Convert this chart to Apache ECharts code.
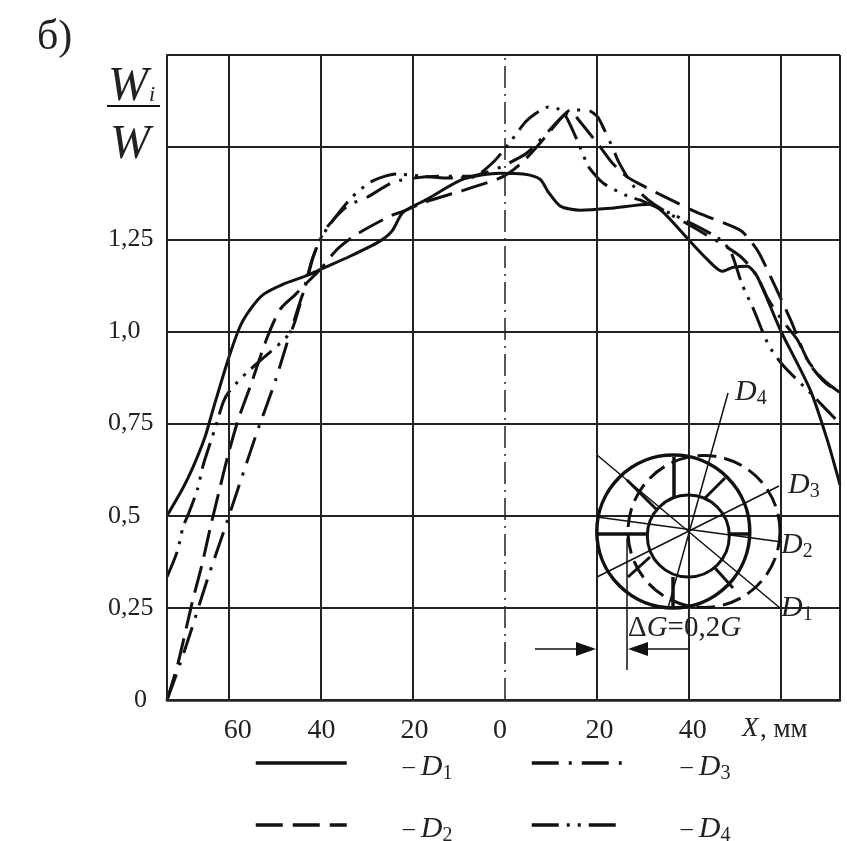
<!DOCTYPE html>
<html>
<head>
<meta charset="utf-8">
<style>html,body{margin:0;padding:0;background:#fff}#c{width:847px;height:841px}</style>
<script src="https://cdn.jsdelivr.net/npm/echarts@6/dist/echarts.min.js"></script>
</head>
<body>
<div id="c"></div>
<script>
// Values: [X mm (left negative), Wi/W]
const D1 = [[-73.4,0.5],[-69.9,0.576],[-67.7,0.633],[-65.1,0.715],[-63.4,0.788],[-60.1,0.924],[-57.5,1.014],[-55.3,1.06],[-52.5,1.1],[-48.2,1.128],[-42.9,1.152],[-40.1,1.168],[-33.6,1.204],[-27.1,1.245],[-24.5,1.272],[-22.1,1.323],[-16.8,1.359],[-9,1.413],[-1,1.429],[4,1.427],[7.7,1.413],[9.5,1.378],[12.1,1.34],[16.4,1.329],[22.9,1.334],[31.6,1.345],[34.5,1.323],[39.9,1.25],[44,1.196],[47.3,1.163],[49.7,1.174],[52.7,1.177],[54.9,1.149],[59.9,1.005],[66.4,0.842],[70.1,0.707],[72.9,0.584]];
const D2 = [[-73.4,0],[-71,0.1],[-67.9,0.266],[-65.8,0.367],[-64,0.467],[-62.1,0.565],[-60.1,0.666],[-57.9,0.761],[-55.3,0.851],[-51.6,0.984],[-48.8,1.06],[-45.5,1.1],[-43.8,1.122],[-40.1,1.168],[-36.4,1.223],[-32.1,1.264],[-24.9,1.313],[-22.1,1.326],[-17.3,1.351],[-9.7,1.38],[-1.6,1.413],[1.2,1.432],[4.5,1.467],[8.8,1.527],[12.5,1.582],[14.2,1.6],[16,1.575],[20.8,1.5],[23.6,1.454],[26.8,1.418],[29.5,1.399],[34.5,1.367],[41.8,1.323],[49.5,1.285],[51.8,1.269],[55.1,1.217],[58.8,1.122],[62.1,1.033],[65.8,0.924],[69.2,0.87],[72.9,0.834]];
const D3 = [[-73.4,0],[-71,0.082],[-67.9,0.198],[-64.5,0.332],[-60.8,0.467],[-57.3,0.598],[-53.8,0.728],[-49.9,0.864],[-46.6,0.997],[-44.5,1.079],[-42.9,1.141],[-41.8,1.196],[-40.1,1.25],[-38.6,1.283],[-34.2,1.34],[-29.9,1.364],[-24.2,1.405],[-18.4,1.418],[-12.9,1.421],[-7.5,1.421],[-3.2,1.435],[-0.5,1.448],[4.5,1.481],[6.2,1.5],[9.5,1.543],[12.5,1.582],[14.2,1.595],[17.5,1.603],[20.1,1.584],[21.4,1.554],[23.6,1.495],[24.7,1.462],[27.7,1.399],[31,1.359],[34.9,1.326],[42.5,1.272],[51.2,1.204],[54.9,1.149],[57.3,1.087],[60.5,1.027],[63.6,0.978],[66.4,0.91],[69.7,0.861],[72.9,0.834]];
const D4 = [[-73.4,0.334],[-71.2,0.402],[-69.9,0.47],[-68.8,0.503],[-66.8,0.571],[-65.5,0.639],[-62.9,0.739],[-61.2,0.807],[-59.9,0.837],[-56,0.889],[-52.1,0.932],[-46.6,0.997],[-44.5,1.073],[-42.9,1.149],[-41.8,1.196],[-40.1,1.25],[-36.8,1.31],[-33.2,1.364],[-28.8,1.408],[-23.4,1.427],[-17.9,1.421],[-12.5,1.416],[-7.1,1.418],[-2.5,1.459],[1.2,1.514],[4.5,1.568],[6.6,1.59],[9.5,1.609],[12.5,1.598],[14.9,1.543],[18.2,1.448],[19.9,1.421],[21.8,1.399],[26.8,1.367],[29.5,1.356],[39.7,1.299],[46.8,1.25],[49.2,1.215],[51.6,1.128],[54,1.063],[57.3,0.965],[60.5,0.908],[66.4,0.834],[70.3,0.783],[72.9,0.75]];
const xMin = -73.4, xMax = 72.9;
const gridXLines = [xMin,-60,-40,-20,20,40,60,xMax];
const centerLine = [0];
const xLabelSpots = [-58,-39.8,-19.6,-1,20.6,40.9];
const yTickLabels = ['0','0,25','0,5','0,75','1,0','1,25','',''];

const INK = '#111';
const SERIF = '"Liberation Serif", "Times New Roman", serif';
const lineBase = {type:'line', symbol:'none', smooth:0.25, clip:true, silent:true, animation:false};
function curve(name,data,dash){
  return Object.assign({},lineBase,{name,data,lineStyle:{color:INK,width:3,type:dash,cap:'butt'},itemStyle:{color:INK}});
}
const richSub = {
  n:{fontFamily:SERIF,fontSize:24,color:'#222'},
  d:{fontFamily:SERIF,fontSize:30,fontStyle:'italic',color:'#222'},
  s:{fontFamily:SERIF,fontSize:20,color:'#222',padding:[13,0,0,0]}
};
function label(x,y,n){
  return {type:'text',x,y,z:20,silent:true,style:{text:'{d|D}{s|'+n+'}',rich:richSub,fill:'#222'}};
}
function ln(x1,y1,x2,y2,w){
  return {type:'line',z:10,silent:true,shape:{x1,y1,x2,y2},style:{stroke:INK,lineWidth:w,fill:'none'}};
}
function circ(cx,cy,r,w,dash){
  return {type:'circle',z:10,silent:true,shape:{cx,cy,r},style:{stroke:INK,lineWidth:w,fill:'none',lineDash:dash||null}};
}
function tri(points){
  return {type:'polygon',z:10,silent:true,shape:{points},style:{fill:INK}};
}
const legendFmt = name => '{n|– }{d|D}{s|'+name.slice(1)+'}';
function legendOf(left,top,name,gap){
  return {left,top,itemWidth:91,itemHeight:8,data:[name],
    selectedMode:false,formatter:legendFmt,
    itemStyle:{opacity:0},
    lineStyle:{width:3.5,color:INK,cap:'butt'},
    textStyle:{padding:[8,0,0,gap],rich:richSub,fontFamily:SERIF,fontSize:24}};
}

const chart = echarts.init(document.getElementById('c'));
chart.setOption({
  animation:false,
  backgroundColor:'#fff',
  grid:{left:167,right:7,top:55,bottom:141},
  legend:[legendOf(249,747,'D1',51),legendOf(249,809,'D2',51),legendOf(525,747,'D3',53),legendOf(525,809,'D4',53)],
  xAxis:{type:'value',min:xMin,max:xMax,
    axisLine:{show:true,lineStyle:{color:'#222',width:2.5}},axisTick:{show:false},splitLine:{show:false},
    axisLabel:{show:true,margin:17,fontFamily:SERIF,fontSize:28,color:'#222',customValues:xLabelSpots,
      formatter:v=>String(Math.abs(Math.round(v/20)*20))}},
  yAxis:{type:'value',min:0,max:1.75,interval:0.25,
    axisLine:{show:true,onZero:false,lineStyle:{color:'#222',width:2}},axisTick:{show:false},
    splitLine:{show:true,lineStyle:{color:'#222',width:2,type:'solid'}},
    axisLabel:{align:'left',margin:59,fontFamily:SERIF,fontSize:26,color:'#222',
      formatter:v=>{const t=yTickLabels[Math.round(v/0.25)];return v===0?'{z|'+t+'}':t;},
      rich:{z:{padding:[0,0,0,26],fontFamily:SERIF,fontSize:26,color:'#222'}}}},
  series:[
    {type:'line',name:'grid',data:[],silent:true,animation:false,symbol:'none',
      markLine:{silent:true,animation:false,symbol:'none',label:{show:false},
        lineStyle:{color:'#222',width:2,type:'solid'},
        data:gridXLines.map(v=>({xAxis:v}))}},
    {type:'line',name:'center',data:[],silent:true,animation:false,symbol:'none',
      markLine:{silent:true,animation:false,symbol:'none',label:{show:false},
        lineStyle:{color:'#222',width:1.5,type:[22,6,2,6]},
        data:centerLine.map(v=>({xAxis:v}))}},
    curve('D1',D1,'solid'),
    curve('D2',D2,[27,10]),
    curve('D3',D3,[27,10,3,10]),
    curve('D4',D4,[27,8,3,8,3,8])
  ],
  graphic:{elements:[
    {type:'text',x:37,y:17,z:20,silent:true,style:{text:'б)',font:'42px '+SERIF,fill:'#222'}},
    {type:'text',x:108,y:63,z:20,silent:true,style:{text:'W',font:'italic 48px '+SERIF,fill:'#222'}},
    {type:'text',x:149,y:84,z:20,silent:true,style:{text:'i',font:'italic 22px '+SERIF,fill:'#222'}},
    ln(107,106,160,106,2),
    {type:'text',x:110,y:121,z:20,silent:true,style:{text:'W',font:'italic 48px '+SERIF,fill:'#222'}},
    {type:'text',x:742,y:715,z:20,silent:true,style:{text:'X',font:'italic 27px '+SERIF,fill:'#222'}},
    {type:'text',x:760,y:716,z:20,silent:true,style:{text:', мм',font:'27px '+SERIF,fill:'#222'}},
    circ(673.3,531.5,76.5,3.5),
    circ(704,531.5,76,3,[19,8]),
    circ(688.3,536,41,3),
    ln(597,534,647,534,3.5),ln(674,457,674,497,3.5),ln(730,534,750,534,3.5),ln(673,577,673,608,3.5),
    ln(627,480,657,510,3),ln(705,498,725,478,3),ln(715,568,733,588,3),ln(628,577,650,557,3),
    ln(597,455,780,608,1.5),ln(597,517,782,542,1.5),ln(597,577,779,486,1.5),ln(668,608,728,393,1.5),
    label(735,376,'4'),label(788,469,'3'),label(781,529,'2'),label(781,592,'1'),
    {type:'text',x:628,y:614,z:20,silent:true,style:{text:'{a|Δ}{b|G}{a|=0,2}{b|G}',fill:'#222',rich:{
      a:{fontFamily:SERIF,fontSize:29,color:'#222'},b:{fontFamily:SERIF,fontSize:29,fontStyle:'italic',color:'#222'}}}},
    ln(535,649,578,649,1.5),tri([[576,642],[596,649],[576,656]]),
    ln(648,649,688,649,1.5),tri([[648,642],[628,649],[648,656]]),
    ln(627,538,627,670,1.5)
  ]}
});
</script>
</body>
</html>
